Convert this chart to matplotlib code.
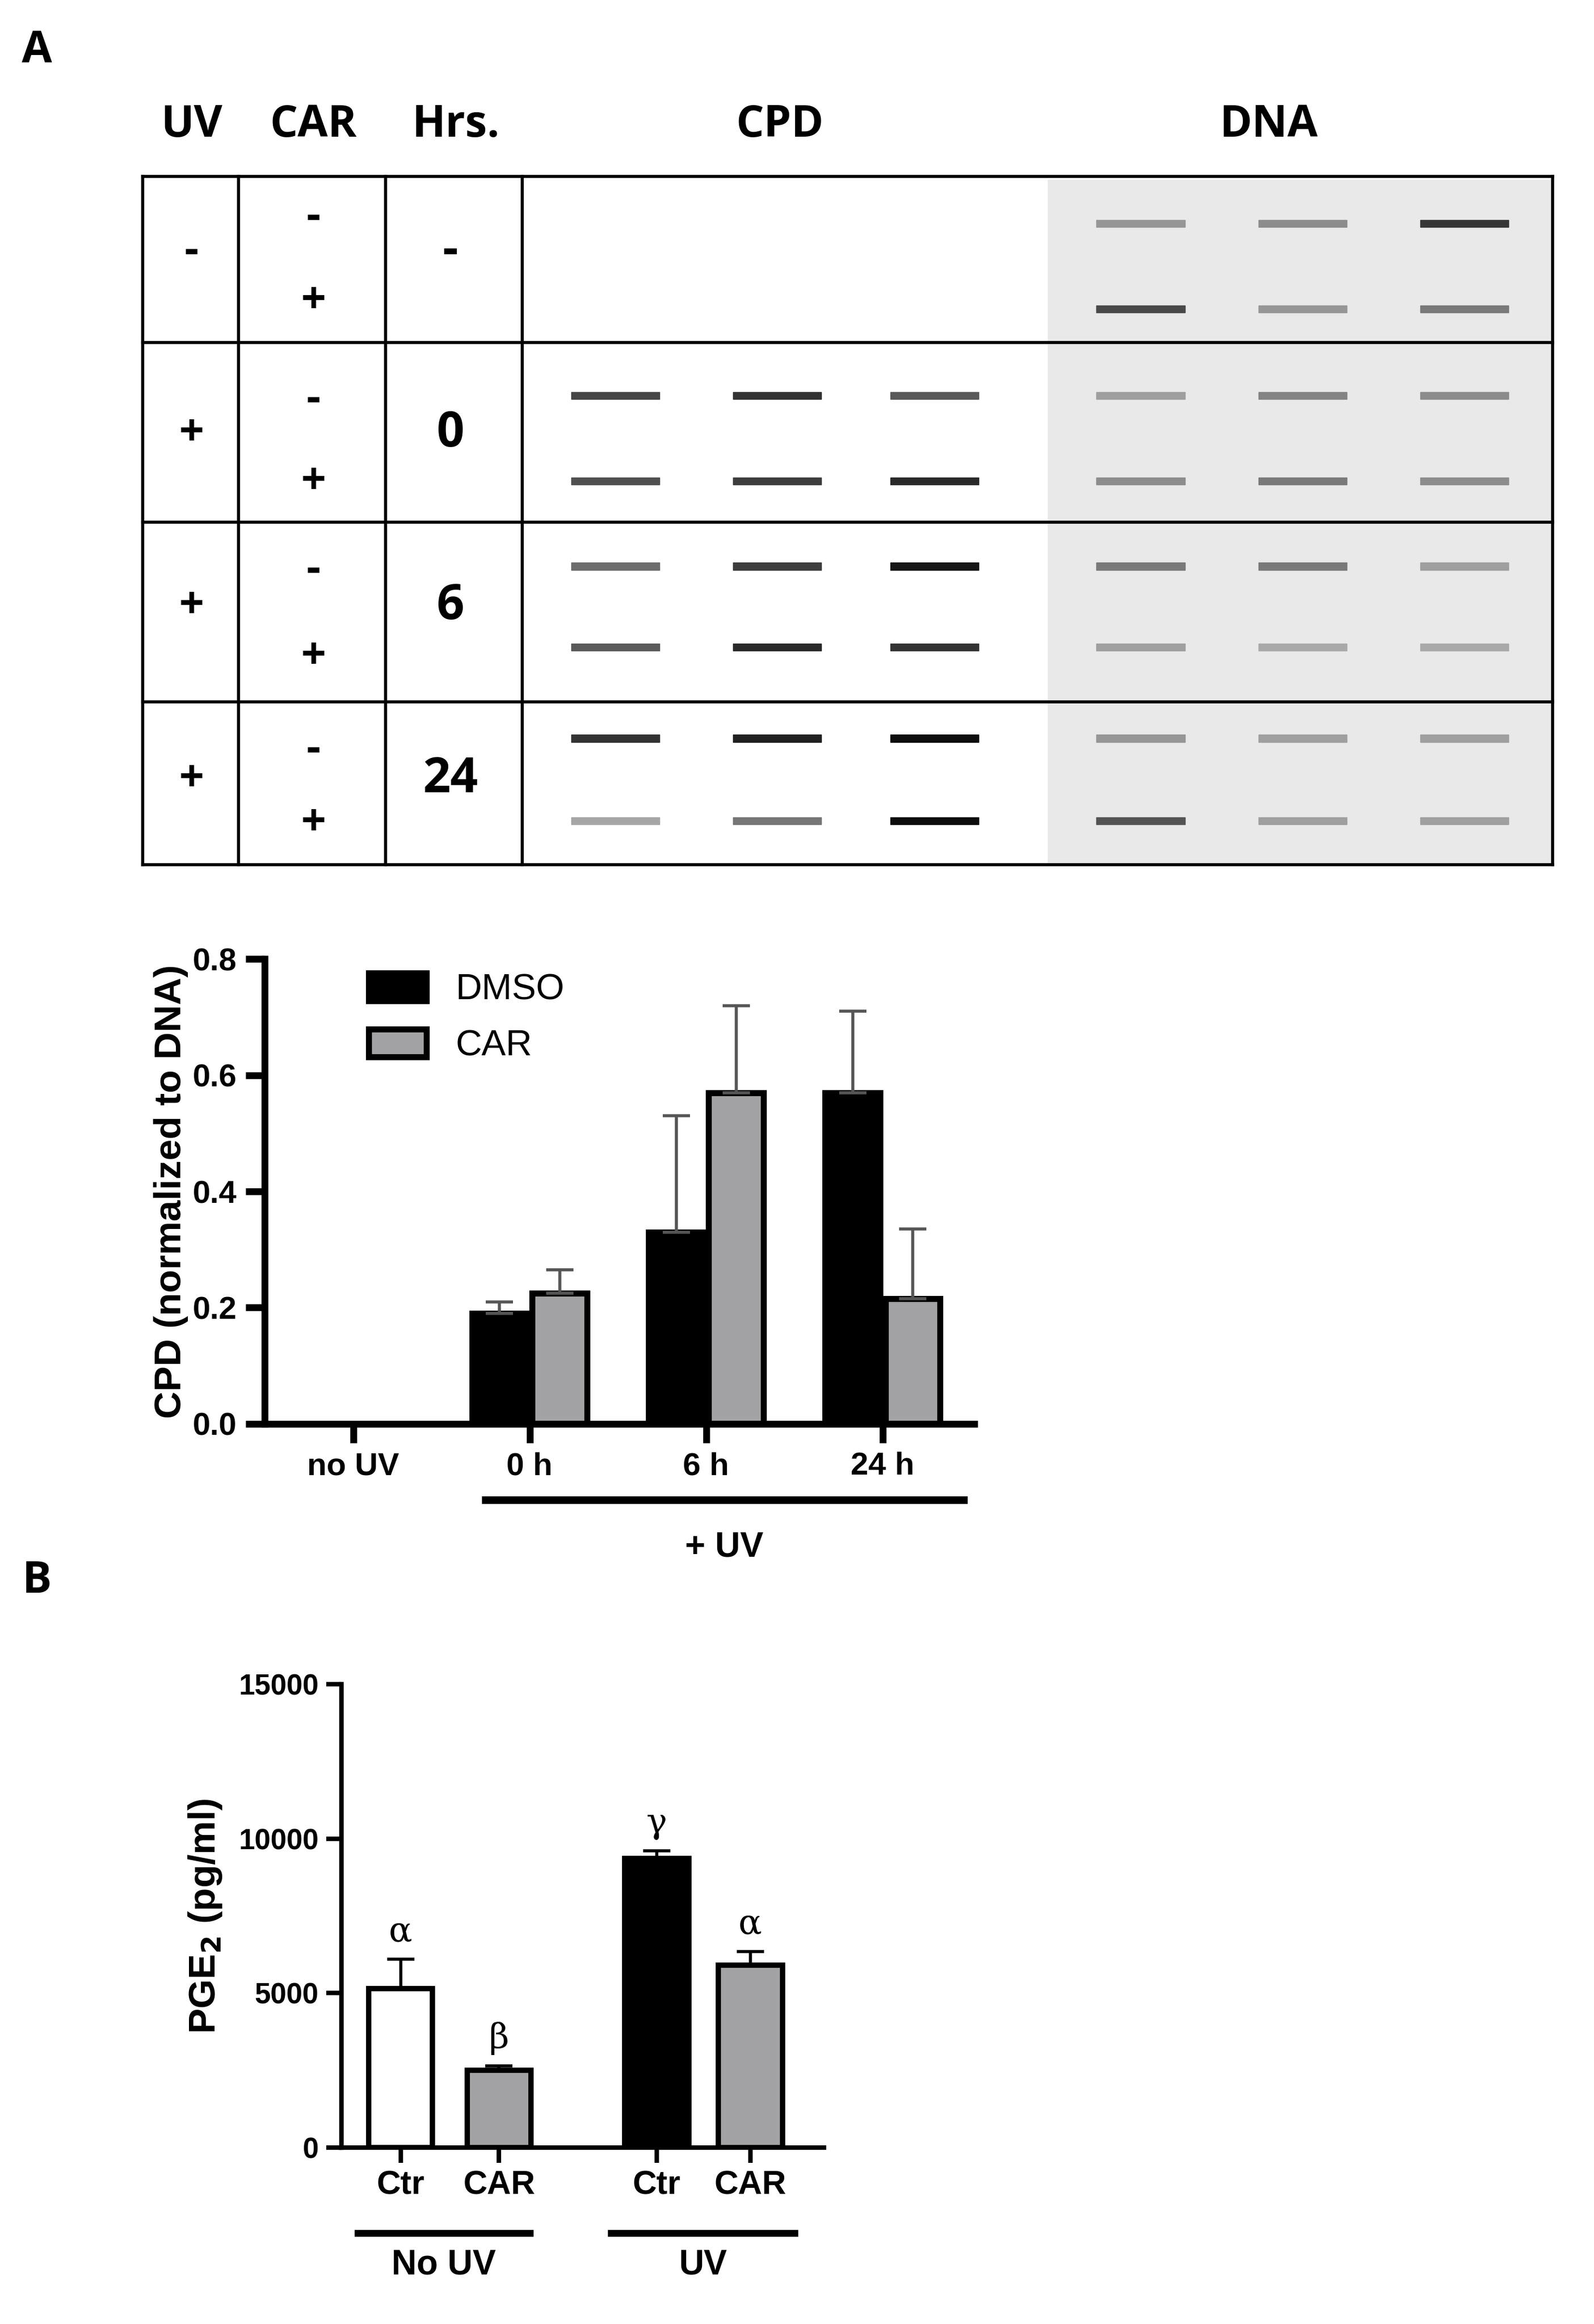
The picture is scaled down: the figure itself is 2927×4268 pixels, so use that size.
import matplotlib.pyplot as plt
from matplotlib.patches import Rectangle
import numpy as np

plt.rcParams["font.family"] = "Liberation Sans"

# ---- data ----
# slot-blot band darkness (0 = none, 1 = black), rows: (UV/CAR/Hrs) x (-, +), 3 lanes
cpd_bands = [
    [0.0, 0.0, 0.0], [0.0, 0.0, 0.0],
    [0.70, 0.80, 0.60], [0.65, 0.75, 0.85],
    [0.50, 0.75, 0.95], [0.60, 0.85, 0.80],
    [0.80, 0.90, 1.00], [0.20, 0.45, 1.00],
]
dna_bands = [
    [0.35, 0.40, 0.85], [0.75, 0.35, 0.50],
    [0.30, 0.45, 0.40], [0.40, 0.50, 0.40],
    [0.50, 0.50, 0.30], [0.30, 0.25, 0.25],
    [0.35, 0.30, 0.30], [0.70, 0.30, 0.30],
]
uv_labels = ["-", "+", "+", "+"]
car_labels = ["-", "+"]
hrs_labels = ["-", "0", "6", "24"]

cpd_groups = ["no UV", "0 h", "6 h", "24 h"]
dmso_vals = [0.0, 0.19, 0.33, 0.57]
dmso_err = [0.0, 0.02, 0.20, 0.14]
car_vals = [0.0, 0.225, 0.57, 0.215]
car_err = [0.0, 0.04, 0.15, 0.12]

pge_labels = ["Ctr", "CAR", "Ctr", "CAR"]
pge_vals = [5150, 2500, 9350, 5900]
pge_err = [950, 150, 250, 450]
pge_letters = ["α", "β", "γ", "α"]

W, H = 1083, 1580
fig = plt.figure(figsize=(29.27, 42.68), dpi=100)
def rect(l, t, r, b):
    return [l / W, 1 - b / H, (r - l) / W, (b - t) / H]

# ---- panel A blot table (drawn in display-pixel coordinates) ----
tb = fig.add_axes([0, 0, 1, 1])
tb.set_xlim(0, W); tb.set_ylim(H, 0); tb.axis("off")
tb.add_patch(Rectangle((712, 122), 343, 466, color="#e9e9e9", zorder=0))
for y in [120, 233, 355, 477, 588]:
    tb.plot([97, 1055], [y, y], color="black", lw=4)
for x in [97, 162, 262, 355, 1055]:
    tb.plot([x, x], [120, 588], color="black", lw=4)

hb = dict(fontsize=58, fontweight="bold", ha="center", va="center", family="Open Sans")
tb.text(25, 35, "A", **hb)
tb.text(25, 1075, "B", **hb)
for x, s in [(130, "UV"), (213, "CAR"), (310, "Hrs."), (530, "CPD"), (862, "DNA")]:
    tb.text(x, 85, s, **hb)

minus_y = [[148, 205], [272, 328], [388, 447], [510, 560]]
for i in range(4):
    mid = (minus_y[i][0] + minus_y[i][1]) / 2 - 5
    tb.text(130, mid, uv_labels[i], **hb)
    tb.text(213, minus_y[i][0], car_labels[0], **hb)
    tb.text(213, minus_y[i][1], car_labels[1], **hb)
    tb.text(306, mid, hrs_labels[i], **{**hb, "fontsize": 64})

band_y = [[152, 210], [269, 327], [385, 440], [502, 558]]
cpd_x = [418, 528, 635]
dna_x = [775, 885, 995]
for i in range(4):
    for k in range(2):
        y = band_y[i][k]
        for j in range(3):
            for xs, vals, top in [(cpd_x, cpd_bands, 0.8), (dna_x, dna_bands, 0.85)]:
                d = vals[2 * i + k][j]
                if d > 0:
                    g = top - 0.75 * d
                    tb.add_patch(Rectangle((xs[j] - 30, y - 2.5), 60, 5,
                                           color=(g, g, g), zorder=2))

# ---- panel A bar chart ----
ax = fig.add_axes(rect(180, 652, 662, 968))
x = np.arange(len(cpd_groups))
bw, off = 0.31, 0.17
ax.bar(x - off, dmso_vals, bw, color="black", edgecolor="black", lw=8, label="DMSO")
ax.bar(x + off, car_vals, bw, color="#a3a3a6", edgecolor="black", lw=8, label="CAR")
for i in range(1, 4):
    for xx, v, e in [(x[i] - off, dmso_vals[i], dmso_err[i]), (x[i] + off, car_vals[i], car_err[i])]:
        ax.errorbar(xx, v, yerr=[[0], [e]], color="#555555", lw=4, capsize=18, capthick=4)
ax.set_xlim(-0.5, 3.52); ax.set_ylim(0, 0.8)
ax.set_yticks([0, 0.2, 0.4, 0.6, 0.8])
ax.set_yticklabels(["0.0", "0.2", "0.4", "0.6", "0.8"])
ax.set_xticks(x); ax.set_xticklabels(cpd_groups)
for s in ["top", "right"]:
    ax.spines[s].set_visible(False)
for s in ["left", "bottom"]:
    ax.spines[s].set_linewidth(9)
ax.tick_params(width=9, length=25, labelsize=42, pad=12)
for t in ax.get_xticklabels() + ax.get_yticklabels():
    t.set_fontweight("bold")
ax.set_ylabel("CPD (normalized to DNA)", fontsize=50, fontweight="bold", labelpad=6)
ax.legend(loc="upper left", bbox_to_anchor=(0.1, 1.04), frameon=False, fontsize=48,
          handlelength=1.6, handleheight=0.8, labelspacing=0.6)
tb.plot([330, 655], [1020, 1020], color="black", lw=10)
tb.text(492, 1052, "+ UV", fontsize=46, fontweight="bold", ha="center", va="center")

# ---- panel B bar chart ----
bx = fig.add_axes(rect(232, 1145, 560, 1460))
pos = [0, 1, 2.6, 3.55]
colors = ["white", "#a3a3a6", "black", "#a3a3a6"]
bx.bar(pos, pge_vals, 0.65, color=colors, edgecolor="black", lw=7)
for p, v, e, l in zip(pos, pge_vals, pge_err, pge_letters):
    bx.errorbar(p, v, yerr=[[0], [e]], color="black", lw=4, capsize=18, capthick=4)
    bx.text(p, v + e + 350, l, fontsize=46, ha="center", va="bottom", family="DejaVu Serif")
bx.set_xlim(-0.6, 4.3); bx.set_ylim(0, 15000)
bx.set_yticks([0, 5000, 10000, 15000])
bx.set_xticks(pos); bx.set_xticklabels(pge_labels)
for s in ["top", "right"]:
    bx.spines[s].set_visible(False)
for s in ["left", "bottom"]:
    bx.spines[s].set_linewidth(6)
bx.tick_params(width=6, length=20, labelsize=38, pad=10)
bx.tick_params(axis="x", labelsize=44)
for t in bx.get_xticklabels() + bx.get_yticklabels():
    t.set_fontweight("bold")
bx.set_ylabel("PGE$_\\mathbf{2}$ (pg/ml)", fontsize=50, fontweight="bold", labelpad=20)
for (x0, x1, lab) in [(243, 360, "No UV"), (415, 540, "UV")]:
    tb.plot([x0, x1], [1518, 1518], color="black", lw=9)
    tb.text((x0 + x1) / 2, 1540, lab, fontsize=46, fontweight="bold", ha="center", va="center")

fig.savefig("out.png", dpi=100)
